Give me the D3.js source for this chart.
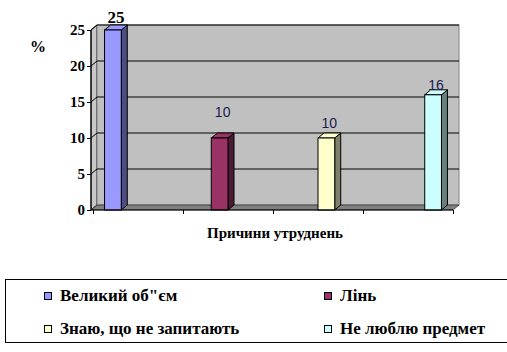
<!DOCTYPE html>
<html>
<head>
<meta charset="utf-8">
<script src="https://cdn.jsdelivr.net/npm/d3@7"></script>
<style>
  body { margin: 0; background: #fff; }
  svg { display: block; }
  .ser { font-family: "Liberation Serif", serif; font-weight: bold; }
  .sans { font-family: "Liberation Sans", Arial, sans-serif; }
</style>
</head>
<body>
<svg width="507" height="352"></svg>
<script>
// дані діаграми
const seriesNames = ["Великий об\"єм", "Лінь", "Знаю, що не запитають", "Не люблю предмет"];
const seriesValues = [25, 10, 10, 16];
const seriesColors = ["#9999ff", "#993366", "#ffffcc", "#ccffff"];
const sideColors = ["#4d4d80", "#4d1a33", "#80806a", "#668080"];
const yTicks = [0, 5, 10, 15, 20, 25];
const axisTitle = "Причини утруднень";

// ручне зміщення підписів (як на оригіналі)
const labelDy = [-7, -21, -10, -5];

const svg = d3.select("svg");

const area = { left: 93, right: 453, top: 30, bottom: 210 };
const depth = { dx: 6, dy: -5 };

const categories = seriesNames.map((d, i) => i);

const scX = d3.scaleBand()
    .domain(categories)
    .range([area.left, area.right])
    .padding(0);

const scInner = d3.scaleBand()
    .domain(categories)
    .range([0, scX.bandwidth()])
    .paddingInner(0)
    .paddingOuter(0.69);

const scY = d3.scaleLinear()
    .domain([0, 25])
    .range([area.bottom, area.top]);

const axisX0 = area.left - 2;
const backL = axisX0 + depth.dx, backR = area.right + depth.dx;
const yb = v => scY(v) + depth.dy;

// стінки
svg.append("polygon")
    .attr("points", [[axisX0, scY(0)], [backL, yb(0)], [backL, yb(25)], [axisX0, scY(25)]].join(" "))
    .attr("fill", "#c8c8c8").attr("stroke", "#000").attr("stroke-width", 1);

svg.append("rect")
    .attr("x", backL).attr("y", yb(25))
    .attr("width", backR - backL).attr("height", yb(0) - yb(25))
    .attr("fill", "#c0c0c0").attr("stroke", "#808080");

svg.append("polygon")
    .attr("points", [[axisX0, scY(0)], [area.right, scY(0)], [backR, yb(0)], [backL, yb(0)]].join(" "))
    .attr("fill", "#808080").attr("stroke", "#000").attr("stroke-width", 0.5);

// сітка
yTicks.filter(t => t > 0).forEach(t => {
    svg.append("line")
        .attr("x1", backL).attr("x2", backR)
        .attr("y1", yb(t)).attr("y2", yb(t))
        .attr("stroke", "#000");
    svg.append("line")
        .attr("x1", axisX0).attr("x2", backL)
        .attr("y1", scY(t)).attr("y2", yb(t))
        .attr("stroke", "#000");
});

// стовпці
const bars = svg.append("g");
seriesValues.forEach((v, i) => {
    const x = scX(i) + scInner(i);
    const w = scInner.bandwidth();
    const yt = scY(v), y0 = scY(0);
    bars.append("polygon")
        .attr("points", [[x + w, yt], [x + w + depth.dx, yt + depth.dy], [x + w + depth.dx, y0 + depth.dy], [x + w, y0]].join(" "))
        .attr("fill", sideColors[i]).attr("stroke", "#000").attr("stroke-width", 1);
    bars.append("polygon")
        .attr("points", [[x, yt], [x + depth.dx, yt + depth.dy], [x + w + depth.dx, yt + depth.dy], [x + w, yt]].join(" "))
        .attr("fill", seriesColors[i]).attr("stroke", "#000").attr("stroke-width", 1);
    bars.append("rect")
        .attr("x", x).attr("y", yt)
        .attr("width", w).attr("height", y0 - yt)
        .attr("fill", seriesColors[i]).attr("stroke", "#000").attr("stroke-width", 1);

    const lbl = svg.append("text")
        .attr("x", x + w / 2 + depth.dx / 2)
        .attr("y", yt + labelDy[i])
        .attr("text-anchor", "middle")
        .text(v);
    if (i === 0) {
        lbl.attr("class", "ser").attr("font-size", 17).attr("fill", "#000");
    } else {
        lbl.attr("class", "sans").attr("font-size", 14).attr("fill", "#1a1a50");
    }
});

// осі
const axisY = d3.axisLeft(scY).tickValues(yTicks).tickSize(4).tickPadding(2);
const gy = svg.append("g")
    .attr("transform", `translate(${axisX0},0)`)
    .call(axisY);
gy.select(".domain").attr("d", `M-0,${scY(25)}V${scY(0)}`);
gy.selectAll("text").attr("class", "ser").attr("font-size", 15).attr("fill", "#000");

const scXLin = d3.scaleLinear().domain([0, categories.length]).range([area.left, area.right]);
const gx = svg.append("g")
    .attr("transform", `translate(0,${scY(0)})`)
    .call(d3.axisBottom(scXLin).ticks(categories.length).tickSize(4).tickFormat(""));
gx.select(".domain").attr("d", `M${axisX0},0H${area.right}`);

svg.append("text")
    .attr("x", (area.left + area.right) / 2 + 2)
    .attr("y", 238)
    .attr("text-anchor", "middle")
    .attr("class", "ser").attr("font-size", 15)
    .text(axisTitle);

svg.append("text")
    .attr("x", 38).attr("y", 52)
    .attr("text-anchor", "middle")
    .attr("class", "ser").attr("font-size", 16)
    .text("%");

// легенда
const legend = svg.append("g");
legend.append("rect")
    .attr("x", 5.5).attr("y", 279.5)
    .attr("width", 510).attr("height", 63)
    .attr("fill", "#fff").attr("stroke", "#000");

const legCols = [44, 324], legRows = [296, 329];
seriesNames.forEach((name, i) => {
    const cx = legCols[i % 2], cy = legRows[Math.floor(i / 2)];
    legend.append("rect")
        .attr("x", cx + 0.5).attr("y", cy - 3.5)
        .attr("width", 7).attr("height", 7)
        .attr("fill", seriesColors[i]).attr("stroke", "#000");
    legend.append("text")
        .attr("x", cx + 16).attr("y", cy + 5)
        .attr("class", "ser").attr("font-size", 17)
        .text(name);
});
</script>
</body>
</html>
